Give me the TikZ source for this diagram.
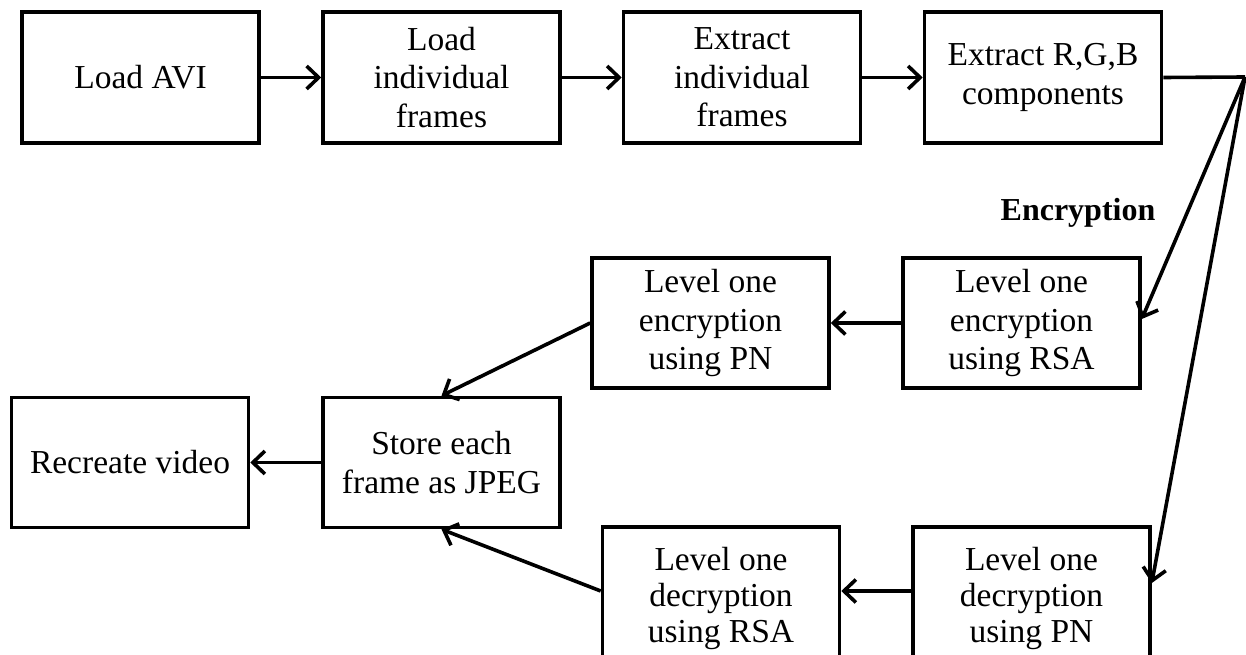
\documentclass[tikz,border=0pt]{standalone}
\usepackage{fontspec}
\setmainfont{Liberation Serif}
\usetikzlibrary{arrows.meta}
\tikzset{
  box/.style={draw=black, line width=3.6pt, minimum width=237pt, inner sep=0pt,
    align=center, font=\fontsize{33.5}{38.5}\selectfont},
  toprow/.style={box, minimum height=131pt},
  midrow/.style={box, minimum height=130pt},
  lowrow/.style={box, minimum height=142pt, font=\fontsize{33.5}{36}\selectfont},
  conn/.style={line width=3.6pt, -{Straight Barb[length=12pt,width=23pt]}},
  plain/.style={line width=3.6pt}
}
\begin{document}
\begin{tikzpicture}[x=1pt,y=-1pt]
\useasboundingbox (0,0) rectangle (1246,655);
\clip (0,0) rectangle (1246,655);
% top row
\node[toprow] (avi)  at (140.5,77.5) {Load AVI};
\node[toprow] (load) at (441.5,77.5) {Load\\individual\\frames};
\node[toprow] (ext)  at (742,77.5) {Extract\\individual\\frames};
\node[toprow] (rgb)  at (1043,77.5) {Extract R,G,B\\components};
% encryption row
\node[midrow] (encpn)  at (710.5,323) {Level one\\encryption\\using PN};
\node[midrow] (encrsa) at (1021.5,323) {Level one\\encryption\\using RSA};
% store row
\node[midrow] (recreate) at (130,462.5) {Recreate video};
\node[midrow] (store)    at (441.5,462.5) {Store each\\frame as JPEG};
% decryption row
\node[lowrow] (decrsa) at (721,598) {Level one\\decryption\\using RSA};
\node[lowrow] (decpn)  at (1031.5,598) {Level one\\decryption\\using PN};
% label
\node[font=\fontsize{32}{38}\selectfont\bfseries] (enclabel) at (1078,213) {Encryption};
\coordinate (corner) at (1245,77);
% connectors
\draw[conn] (avi.east) -- (load.west);
\draw[conn] (load.east) -- (ext.west);
\draw[conn] (ext.east) -- (rgb.west);
\draw[plain] (rgb.east) -- (corner);
\draw[conn] (corner) -- ([yshift=4pt]encrsa.east);
\draw[conn] (corner) -- ([yshift=15pt]decpn.east);
\draw[conn] (encrsa.west) -- (encpn.east);
\draw[conn] (encpn.west) -- (store.north);
\draw[conn] ([yshift=7pt]decpn.west) -- ([yshift=7pt]decrsa.east);
\draw[conn] ([yshift=7pt]decrsa.west) -- (store.south);
\draw[conn] (store.west) -- (recreate.east);
\end{tikzpicture}
\end{document}
